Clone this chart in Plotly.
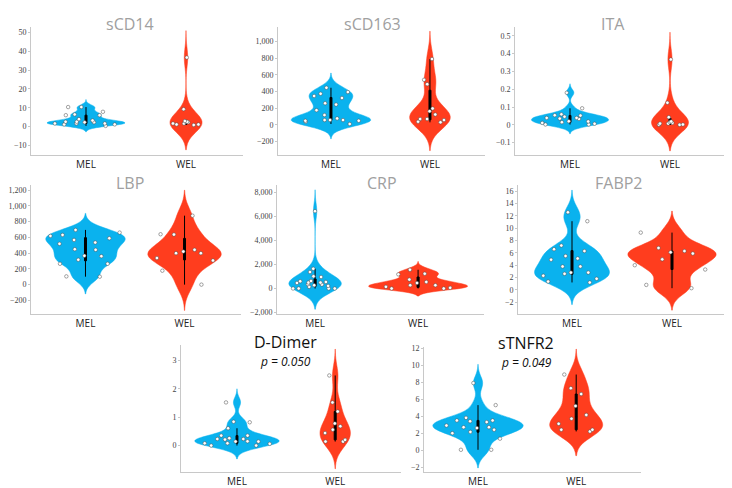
import plotly.graph_objects as go

groups = ["MEL", "WEL"]

# ---- data ----
sCD14_MEL = [1.7, 2.6, 1.2, 2.3, 3.3, 4.0, 10.4, 10.4, 6.1, 7.9, 1.7, 6.5, 1.7, 0.4, 6.1, 1.2, 2.3, 2.6]
sCD14_WEL = [36.7, 9.3, 2.6, 1.7, 3.0, 2.3, 1.2, 1.2, 0.9, 1.7, 2.6]

sCD163_MEL = [79, 119, 178, 59, 375, 245, 348, 261, 51, 59, 395, 59, 447, 324, 51, 12, 40]
sCD163_WEL = [791, 542, 490, 166, 71, 59, 126, 198, 32, 71, 40]

ITA_MEL = [0.015, 0.006, 0.059, 0.054, 0.033, 0.093, 0.18, 0.019, 0.039, 0.039, 0.011, 0.020, 0.046, 0.052, 0.002, 0.002, 0.035]
ITA_WEL = [0.367, 0.124, 0.007, 0.0, 0.002, 0.043, 0.0, 0.007, 0.015, 0.011, 0.019]

LBP_MEL = [316, 265, 695, 362, 661, 265, 105, 450, 518, 568, 442, 101, 535, 619, 632, 366, 589]
LBP_WEL = [876, 636, 307, 177, 0, 400, 442, 337, 640, 400, 420]

CRP_MEL = [356, 493, 0, 1014, 329, 603, 959, 466, 6438, 493, 274, 137, 630, 0, 548, 1370, 1644, 219, 0, 0]
CRP_WEL = [1562, 1233, 1178, 740, 466, 548, 274, 0, 137, 0, 274, 55]

FABP2_MEL = [5.1, 3.8, 6.6, 3.8, 1.35, 11.15, 6.3, 5.5, 4.9, 2.3, 7.2, 12.6, 2.8, 1.2, 2.6, 1.8, 2.8]
FABP2_WEL = [9.3, 4.95, 3.3, 6.3, 4.0, 0.8, 0.27, 6.8, 5.9, 6.1]

DDimer_MEL = [0.08, 0.08, 0.82, 0.23, 0.14, 0.26, 1.52, 0.21, 0.35, 0.84, 0.61, 0.23, 0.14, 0.15, 0.06, 0.0, 0.0, 0.35]
DDimer_WEL = [2.47, 1.52, 1.2, 0.68, 0.78, 0.56, 0.44, 0.14, 0.2, 0.14]

sTNFR2_MEL = [2.7, 2.9, 3.3, 0.04, 2.6, 2.15, 7.9, 5.3, 3.8, 2.0, 2.4, 0.04, 3.5, 3.5, 1.35, 2.7, 3.4]
sTNFR2_WEL = [8.9, 7.3, 6.6, 5.2, 4.15, 3.7, 3.1, 2.4, 2.4, 2.2]

titles = ["sCD14", "sCD163", "ITA", "LBP", "CRP", "FABP2", "D-Dimer", "sTNFR2"]
p_values = [None, None, None, None, None, None, "p = 0.050", "p = 0.049"]
series = [
    (sCD14_MEL, sCD14_WEL), (sCD163_MEL, sCD163_WEL), (ITA_MEL, ITA_WEL),
    (LBP_MEL, LBP_WEL), (CRP_MEL, CRP_WEL), (FABP2_MEL, FABP2_WEL),
    (DDimer_MEL, DDimer_WEL), (sTNFR2_MEL, sTNFR2_WEL),
]

# ---- styles / layout (pixels in a 732x488 canvas) ----
W, H = 732, 488
COLORS = {"MEL": "#0AB2EE", "WEL": "#FF3D1E"}

panels = [
    dict(xd=(23, 235), yd=(17, 147), xr=(-0.55, 1.57), yr=(-15.3, 53), dt=10, tf="",
         w=(0.78, 0.32), bw=(1.3, 5.0), sp=((-2.7, 14.4), (-12.3, 51))),
    dict(xd=(270, 477), yd=(17, 147), xr=(-0.535, 1.556), yr=(-366, 1178), dt=200, tf=",",
         w=(0.80, 0.41), bw=(66, 125), sp=((-166, 624), (-308, 1126))),
    dict(xd=(507, 718), yd=(17, 147), xr=(-0.55, 1.56), yr=(-0.172, 0.55), dt=0.1, tf="",
         w=(0.77, 0.37), bw=(0.019, 0.055), sp=((-0.05, 0.23), (-0.146, 0.52))),
    dict(xd=(23, 233), yd=(177, 307), xr=(-0.55, 1.57), yr=(-371, 1263), dt=200, tf=",",
         w=(0.80, 0.74), bw=(80, 120), sp=((-118, 905), (-328, 1200))),
    dict(xd=(269, 476), yd=(177, 307), xr=(-0.37, 1.64), yr=(-2110, 8600), dt=2000, tf=",",
         w=(0.51, 0.96), bw=(650, 243), sp=((-1726, 8219), (-630, 2246))),
    dict(xd=(510, 723), yd=(177, 307), xr=(-0.54, 1.59), yr=(-3.9, 17), dt=2, tf="",
         w=(0.75, 0.88), bw=(1.33, 1.3), sp=((-2.4, 16.2), (-3.3, 12.8))),
    dict(xd=(173, 393), yd=(338, 467), xr=(-0.57, 1.67), yr=(-0.94, 3.56), dt=1, tf="",
         w=(0.86, 0.31), bw=(0.175, 0.35), sp=((-0.47, 2.0), (-0.82, 3.4))),
    dict(xd=(416, 633), yd=(340, 467), xr=(-0.55, 1.66), yr=(-2.6, 12.2), dt=2, tf="",
         w=(0.92, 0.54), bw=(0.8, 1.08), sp=((-2.1, 10.1), (-0.65, 11.9))),
]
title_pos = [(122, 14), (364, 14), (605, 14), (122, 175), (374, 175), (610, 175), (277, 335), (518, 336)]
p_pos = [None] * 6 + [(277, 355), (518, 356)]

fig = go.Figure()
layout = {}
annotations = []

for i, (pn, (mel, wel)) in enumerate(zip(panels, series)):
    k = "" if i == 0 else str(i + 1)
    xa, ya = "x" + k, "y" + k
    for j, (g, vals) in enumerate(zip(groups, (mel, wel))):
        fig.add_trace(go.Violin(
            x=[g] * len(vals), y=vals, xaxis=xa, yaxis=ya,
            name=g, showlegend=False,
            fillcolor=COLORS[g], line=dict(color=COLORS[g], width=0.5),
            opacity=1, width=pn["w"][j], scalemode="width",
            bandwidth=pn["bw"][j], spanmode="manual", span=list(pn["sp"][j]),
            points="all", pointpos=0, jitter=1.0,
            marker=dict(color="white", size=3.5, line=dict(color="#4a4a4a", width=0.5)),
            box=dict(visible=True, width=0.02 / pn["w"][j], fillcolor="black",
                     line=dict(color="black", width=1)),
            hoverinfo="skip",
        ))
    x0, x1 = pn["xd"]
    t, b = pn["yd"]
    layout["xaxis" + k] = dict(
        domain=[x0 / W, x1 / W], range=list(pn["xr"]), anchor=ya,
        type="category", categoryorder="array", categoryarray=groups,
        showline=True, linecolor="#C8C8C8", linewidth=1, showgrid=False, zeroline=False,
        ticks="", tickfont=dict(family="Open Sans, Arial", size=10, color="#222222"),
        fixedrange=True,
    )
    layout["yaxis" + k] = dict(
        domain=[1 - b / H, 1 - t / H], range=list(pn["yr"]), anchor=xa,
        dtick=pn["dt"], tickformat=pn["tf"],
        showline=True, linecolor="#C8C8C8", linewidth=1, showgrid=False, zeroline=False,
        ticks="outside", ticklen=2, tickcolor="#C8C8C8",
        tickfont=dict(family="Liberation Serif", size=8, color="#444444"),
        fixedrange=True,
    )
    tx, ty = title_pos[i]
    is_bottom = p_values[i] is not None
    annotations.append(dict(
        text=titles[i], x=tx / W, y=1 - ty / H, xref="paper", yref="paper",
        xanchor="center", yanchor="middle", showarrow=False,
        font=dict(family="Open Sans, Arial", size=16,
                  color="#A0A0A0" if not is_bottom else "#111111"),
    ))
    if is_bottom:
        px_, py_ = p_pos[i]
        annotations.append(dict(
            text="<i>" + p_values[i] + "</i>", x=px_ / W, y=1 - py_ / H,
            xref="paper", yref="paper", xanchor="center", yanchor="middle",
            showarrow=False, font=dict(family="Open Sans, Arial", size=12, color="#111111"),
        ))

fig.update_layout(
    width=W, height=H, margin=dict(l=0, r=0, t=0, b=0),
    paper_bgcolor="white", plot_bgcolor="white",
    violinmode="overlay", annotations=annotations, **layout,
)

fig.write_html("out.html")
